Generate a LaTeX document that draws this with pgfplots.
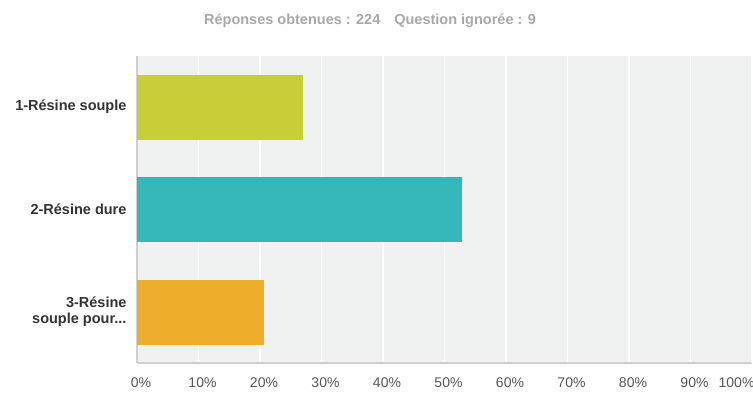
\documentclass[border=0pt]{standalone}
\usepackage{pgfplots}
\pgfplotsset{compat=1.18}
\usepackage{fontspec}
\setmainfont{Liberation Sans}

\definecolor{bggray}{HTML}{F0F1F1}
\definecolor{axgray}{HTML}{CFCFCF}
\definecolor{barA}{HTML}{C7CE38}
\definecolor{barB}{HTML}{35B6B8}
\definecolor{barC}{HTML}{EFAD2C}
\definecolor{titlegray}{HTML}{A8A8A8}
\definecolor{tickgray}{HTML}{555555}
\definecolor{labgray}{HTML}{333333}

\begin{document}
\begin{tikzpicture}[x=1pt,y=1pt]
\useasboundingbox (0,0) rectangle (753,392);
\node[font=\fontsize{14.5}{17}\selectfont\bfseries, text=titlegray] at (370,371)
  {Réponses obtenues : 224\hspace{14pt}Question ignorée : 9};
\begin{axis}[
    at={(137pt,29pt)}, anchor=south west,
    scale only axis,
    width=615pt, height=307pt,
    xbar, bar width=64pt, bar shift=0pt,
    xmin=0, xmax=100,
    ymin=0.5, ymax=3.5,
    axis background/.style={fill=bggray},
    axis lines*=left,
    axis line style={draw=axgray, line width=1.5pt},
    xmajorgrids,
    grid style={draw=white, line width=1.5pt},
    major tick length=0pt,
    xtick={0,10,...,90},
    xticklabel={\pgfmathprintnumber{\tick}\%},
    xticklabel style={text=tickgray, font=\fontsize{14}{16}\selectfont, yshift=-11pt, xshift=4pt},
    extra x ticks={100},
    extra x tick style={xticklabel style={anchor=north east, xshift=2pt}},
    ytick={1,2,3},
    yticklabels={{3-Résine\\souple pour.{}.{}.}, {2-Résine dure}, {1-Résine souple}},
    yticklabel style={text=labgray, align=right, font=\fontsize{14.5}{16}\selectfont\bfseries, xshift=-7pt},
    /pgf/number format/assume math mode=true,
    clip=false,
]
\addplot[fill=barA, draw=barA] coordinates {(26.79,3)};
\addplot[fill=barB, draw=barB] coordinates {(52.68,2)};
\addplot[fill=barC, draw=barC] coordinates {(20.54,1)};
\end{axis}
\end{tikzpicture}
\end{document}
